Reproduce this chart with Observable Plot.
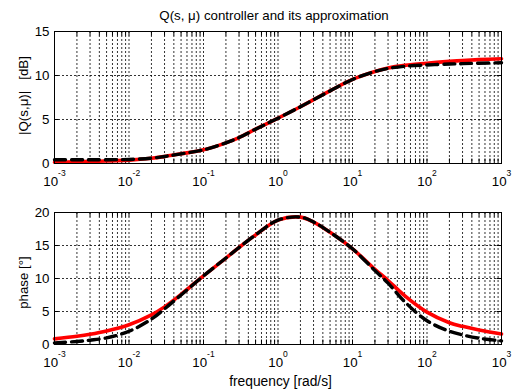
<!DOCTYPE html>
<html><head><meta charset="utf-8">
<script src="https://cdn.jsdelivr.net/npm/d3@7"></script>
<script src="https://cdn.jsdelivr.net/npm/@observablehq/plot@0.6"></script>
<style>
body{margin:0;background:#fff}
#chart{width:512px;height:389px;overflow:hidden}
#chart svg{display:block}
</style>
</head><body><div id="chart"></div>
<script>
// frequencies [rad/s]
const freq = [0.001,0.002,0.003,0.005,0.01,0.02,0.03,0.05,0.1,0.2,0.3,0.5,1,2,3,5,10,20,30,50,100,200,300,500,1000];
// magnitude |Q(s,mu)| [dB]
const magExact  = [0.15,0.2,0.23,0.28,0.38,0.6,0.8,1.1,1.55,2.35,2.95,3.9,5.15,6.45,7.25,8.25,9.55,10.45,10.85,11.15,11.4,11.6,11.7,11.8,11.9];
const magApprox = [0.42,0.42,0.42,0.43,0.46,0.6,0.8,1.1,1.55,2.35,2.95,3.9,5.15,6.45,7.25,8.25,9.55,10.45,10.8,11.05,11.2,11.3,11.35,11.4,11.45];
// phase [deg]
const phExact  = [0.85,1.25,1.55,2.05,3.0,4.5,5.7,7.6,10.4,13.1,14.7,16.6,18.85,19.3,18.55,17.0,14.5,11.4,9.7,7.4,4.9,3.3,2.75,2.2,1.6];
const phApprox = [0.25,0.45,0.65,1.0,2.0,3.85,5.4,7.5,10.4,13.1,14.7,16.6,18.85,19.3,18.55,17.0,14.5,11.2,9.3,6.5,3.6,2.0,1.45,0.95,0.55];

const xTicks = [1e-3,1e-2,1e-1,1,10,100,1000];
const xTickLabels = ["10^-3","10^-2","10^-1","10^0","10^1","10^2","10^3"];
const magTicks = [0,5,10,15];
const phTicks = [0,5,10,15,20];
const titleText = "Q(s, \u03bc) controller and its approximation";
const magLabel = "|Q(s,\u03bc)|\u00a0\u00a0\u00a0[dB]";
const phLabel = "phase [\u00b0]";
const xLabel = "frequency [rad/s]";

const minorX = [];
for (let k = -3; k < 3; k++) for (let m = 1; m <= 9; m++) minorX.push(m * Math.pow(10, k));
minorX.push(1000);

const exact = freq.map((f,i)=>({f, mag: magExact[i], ph: phExact[i]}));
const approx = freq.map((f,i)=>({f, mag: magApprox[i], ph: phApprox[i]}));

const FONT = '"Liberation Sans", Arial, Helvetica, sans-serif';
const W = 512, ML = 54, MR = 11;
const FW = W - ML - MR;

function panel({height, mt, mb, yDomain, yTicks, key, label, labelDy, extra}) {
  const FH = height - mt - mb;
  const tl = 4.5;
  const dash = {stroke: "#000", strokeOpacity: 0.8, strokeWidth: 1, strokeDasharray: "2,2"};
  const svg = Plot.plot({
    width: W, height,
    marginLeft: ML, marginRight: MR, marginTop: mt, marginBottom: mb,
    style: {fontFamily: FONT, fontSize: "13.3px", color: "#000", background: "#fff", overflow: "visible"},
    x: {type: "log", domain: [1e-3, 1e3]},
    y: {domain: yDomain},
    marks: [
      Plot.ruleX(minorX, {x: d => d, ...dash}),
      Plot.ruleY(yTicks, {y: d => d, ...dash}),
      // inward ticks
      Plot.ruleX(minorX, {x: d => d, stroke: "#000", insetTop: FH - tl}),
      Plot.ruleX(minorX, {x: d => d, stroke: "#000", insetBottom: FH - tl}),
      Plot.ruleY(yTicks, {y: d => d, stroke: "#000", insetRight: FW - tl}),
      Plot.ruleY(yTicks, {y: d => d, stroke: "#000", insetLeft: FW - tl}),
      Plot.line(exact, {x: "f", y: key, stroke: "#ff0000", strokeWidth: 3.6, curve: "catmull-rom"}),
      Plot.line(approx, {x: "f", y: key, stroke: "#000", strokeWidth: 3.4, strokeDasharray: "11,6", curve: "catmull-rom"}),
      Plot.frame({stroke: "#000", strokeWidth: 1}),
      Plot.axisX({ticks: xTicks, tickFormat: d => xTickLabels[xTicks.indexOf(d)], tickSize: 0, tickPadding: 13.5, label: null, fill: "#000"}),
      Plot.axisY({ticks: yTicks, tickSize: 0, tickPadding: 5, label: null, fill: "#000"}),
      Plot.text([label], {frameAnchor: "left", textAnchor: "middle", lineAnchor: "middle", rotate: -90, dx: -31, dy: labelDy, fill: "#000", fontSize: 13.3}),
      ...(extra || [])
    ]
  });
  // superscript exponents in x tick labels
  const ns = "http://www.w3.org/2000/svg";
  svg.querySelectorAll('[aria-label="x-axis tick label"] text').forEach(t => {
    const m = t.textContent.match(/^10\^(.+)$/);
    if (!m) return;
    t.textContent = "";
    const a = document.createElementNS(ns, "tspan");
    a.textContent = "10";
    const b = document.createElementNS(ns, "tspan");
    b.setAttribute("dy", "-10");
    b.setAttribute("font-size", "8.5");
    b.textContent = m[1];
    t.append(a, b);
  });
  return svg;
}

const magPanel = panel({
  height: 190, mt: 31, mb: 27, yDomain: [0, 15], yTicks: magTicks, key: "mag", label: magLabel, labelDy: -2,
  extra: [Plot.text([titleText], {frameAnchor: "top", lineAnchor: "middle", dy: -16, dx: -4, fill: "#000", fontSize: 13.3})]
});
const phasePanel = panel({
  height: 199, mt: 22, mb: 45, yDomain: [0, 20], yTicks: phTicks, key: "ph", label: phLabel, labelDy: 4,
  extra: [Plot.text([xLabel], {frameAnchor: "bottom", lineAnchor: "middle", dy: 37, dx: 2.5, fill: "#000", fontSize: 13.8})]
});
document.getElementById("chart").append(magPanel, phasePanel);
</script>
</body></html>
